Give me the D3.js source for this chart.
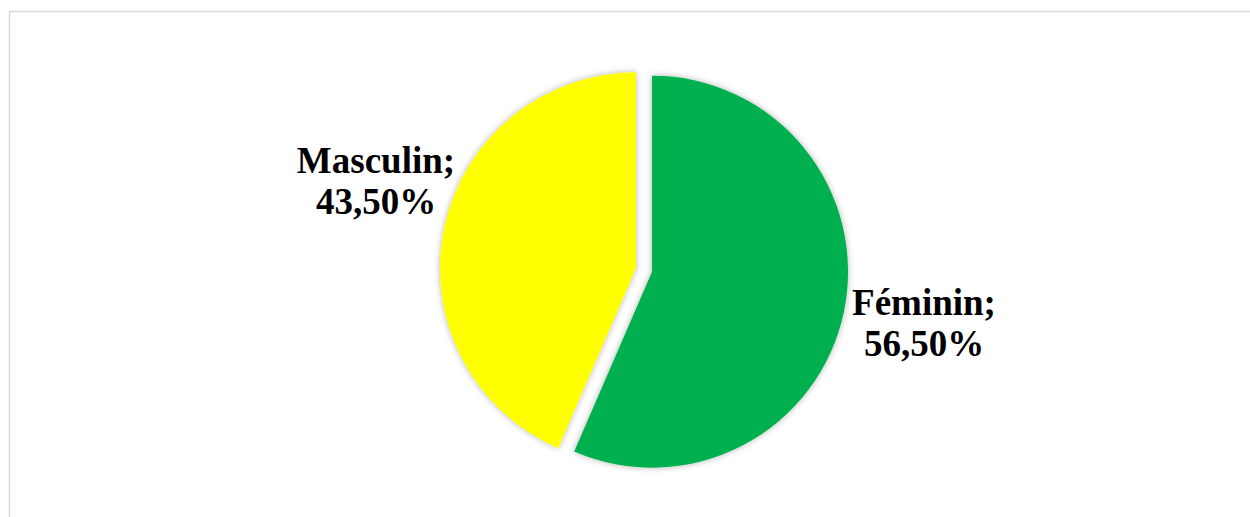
<!DOCTYPE html>
<html><head><meta charset="utf-8">
<script src="https://cdn.jsdelivr.net/npm/d3@7"></script>
<style>html,body{margin:0;padding:0;background:#fff;overflow:hidden}</style>
</head><body>
<svg id="c" width="1250" height="517"></svg>
<script>
const categories = ["Féminin", "Masculin"];
const values = [56.5, 43.5];
const labels = ["56,50%", "43,50%"];
const colors = ["#00B050", "#FFFF00"];

const svg = d3.select("#c");
const defs = svg.append("defs");
const f = defs.append("filter").attr("id","sh").attr("x","-20%").attr("y","-20%").attr("width","140%").attr("height","140%");
f.append("feDropShadow").attr("dx",0).attr("dy",0).attr("stdDeviation",3).attr("flood-color","#000").attr("flood-opacity",0.3);

svg.append("rect").attr("x",9.5).attr("y",11.5).attr("width",1400).attr("height",700)
  .attr("fill","none").attr("stroke","#d9d9d9").attr("stroke-width",1.5);

const cx = 644, cy = 270, r = 196, explode = 8.2;
const pie = d3.pie().sort(null).value(d => d)(values);
const arc = d3.arc().innerRadius(0).outerRadius(r);
const g = svg.append("g").attr("transform", `translate(${cx},${cy})`);
g.selectAll("path").data(pie).join("path")
  .attr("d", arc)
  .attr("fill", (d,i) => colors[i])
  .attr("filter","url(#sh)")
  .attr("transform", d => {
    const a = (d.startAngle + d.endAngle)/2;
    return `translate(${explode*Math.sin(a)},${-explode*Math.cos(a)})`;
  });

// label positions (outside, near slice)
const labelPos = [[924, 315], [376, 173]];
labelPos.forEach((p, i) => {
  const t = svg.append("text").attr("text-anchor","middle")
    .attr("font-family","'Liberation Serif','Times New Roman',serif")
    .attr("font-weight","bold").attr("font-size",37).attr("fill","#000");
  t.append("tspan").attr("x",p[0]).attr("y",p[1]).text(categories[i] + ";");
  t.append("tspan").attr("x",p[0]).attr("y",p[1]+41).text(labels[i]);
});
</script>
</body></html>
